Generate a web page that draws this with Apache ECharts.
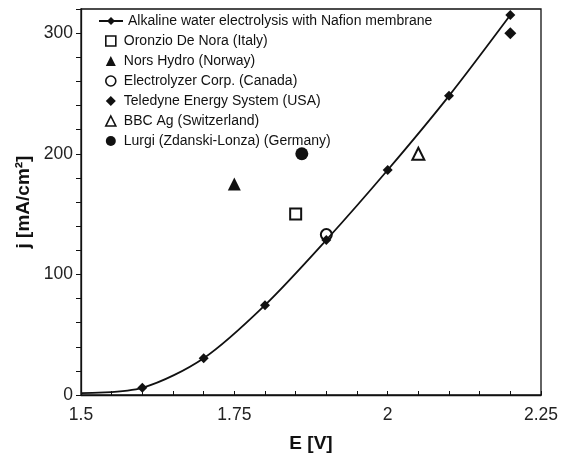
<!DOCTYPE html>
<html>
<head>
<meta charset="utf-8">
<script src="https://cdn.jsdelivr.net/npm/echarts@6/dist/echarts.min.js"></script>
<style>
html,body{margin:0;padding:0;background:#fff;}
#chart{width:566px;height:456px;}
</style>
</head>
<body>
<div id="chart"></div>
<script>
// Curve: Alkaline water electrolysis with Nafion membrane
const curveName = 'Alkaline water electrolysis with Nafion membrane';
const curveE = [1.5, 1.6, 1.7, 1.8, 1.9, 2.0, 2.1, 2.2];
const curveJ = [1.5, 6, 30.5, 74.5, 128.5, 186.5, 248, 315];

// Individual electrolyzer data points
const pointNames = [
  'Oronzio De Nora (Italy)',
  'Nors Hydro (Norway)',
  'Electrolyzer Corp. (Canada)',
  'Teledyne Energy System (USA)',
  'BBC Ag (Switzerland)',
  'Lurgi (Zdanski-Lonza) (Germany)'
];
const pointE = [1.85, 1.75, 1.9, 2.2, 2.05, 1.86];
const pointJ = [150, 175, 133, 300, 200, 200];

// Axis tick labels
const xTickLabels = [1.5, 1.75, 2, 2.25];
const yTickLabels = [0, 100, 200, 300];

const pointSymbols = ['rect', 'triangle', 'circle', 'diamond', 'triangle', 'circle'];
const pointOpen = [true, false, true, false, true, false];
const pointSizes = [11, 13, 11, 12, 12, 13];

const FONT = '"Liberation Sans", Arial, sans-serif';
const INK = '#111';

const chart = echarts.init(document.getElementById('chart'), null, {renderer: 'canvas'});

const scatterSeries = pointNames.map((name, i) => ({
  name: name,
  type: 'scatter',
  symbol: pointSymbols[i],
  symbolSize: pointSizes[i],
  z: 2,
  itemStyle: pointOpen[i]
    ? {color: 'rgba(255,255,255,0)', borderColor: INK, borderWidth: 2, opacity: 1}
    : {color: INK, opacity: 1},
  data: [[pointE[i], pointJ[i]]]
}));

const lineSeries = {
  name: curveName,
  type: 'line',
  smooth: 0.3,
  symbol: 'diamond',
  symbolSize: 10,
  showAllSymbol: true,
  z: 3,
  lineStyle: {color: INK, width: 1.8},
  itemStyle: {color: INK},
  data: curveE.map((e, i) => i === 0 ? {value: [e, curveJ[i]], symbol: 'none'} : [e, curveJ[i]])
};

const isXLabel = v => xTickLabels.some(t => Math.abs(t - v) < 1e-6);
const isYLabel = v => yTickLabels.some(t => Math.abs(t - v) < 1e-6);

const option = {
  backgroundColor: '#fff',
  animation: false,
  grid: {
    left: 81, right: 25, top: 9, bottom: 61,
    show: true, borderColor: INK, borderWidth: 1.3,
    containLabel: false, outerBoundsMode: 'none'
  },
  legend: [
    {
      data: [curveName],
      left: 98, top: 14, padding: 0,
      itemWidth: 24, itemHeight: 10,
      textStyle: {fontFamily: FONT, fontSize: 14, color: INK, lineHeight: 14},
      selectedMode: false
    },
    {
      data: pointNames,
      orient: 'vertical',
      left: 105, top: 34, padding: 0,
      itemWidth: 10, itemHeight: 10, itemGap: 6,
      itemStyle: {borderWidth: 1.6},
      textStyle: {fontFamily: FONT, fontSize: 14, color: INK, lineHeight: 14, padding: [0, 0, 0, 3]},
      selectedMode: false
    }
  ],
  xAxis: {
    type: 'value',
    min: 1.5, max: 2.25, interval: 0.05,
    name: 'E [V]',
    nameLocation: 'middle',
    nameGap: 39,
    nameTextStyle: {fontFamily: FONT, fontSize: 19, fontWeight: 'bold', color: INK},
    axisLine: {show: true, lineStyle: {color: INK, width: 1.3}},
    axisTick: {show: true, inside: true, length: 4, lineStyle: {color: INK, width: 1}},
    axisLabel: {
      fontFamily: FONT, fontSize: 17.5, color: '#222', margin: 11,
      formatter: v => isXLabel(v) ? String(parseFloat(v.toFixed(2))) : ''
    },
    splitLine: {show: false}
  },
  yAxis: {
    type: 'value',
    min: 0, max: 320, interval: 20,
    name: 'j [mA/cm²]',
    nameLocation: 'middle',
    nameGap: 48,
    nameRotate: 90,
    nameTextStyle: {fontFamily: FONT, fontSize: 19, fontWeight: 'bold', color: INK},
    axisLine: {show: true, lineStyle: {color: INK, width: 1.3}},
    axisTick: {show: true, inside: false, length: 5, lineStyle: {color: INK, width: 1}},
    axisLabel: {
      fontFamily: FONT, fontSize: 17.5, color: '#222', margin: 8,
      formatter: v => isYLabel(v) ? String(Math.round(v)) : ''
    },
    splitLine: {show: false}
  },
  series: scatterSeries.concat([lineSeries])
};

chart.setOption(option);
</script>
</body>
</html>
